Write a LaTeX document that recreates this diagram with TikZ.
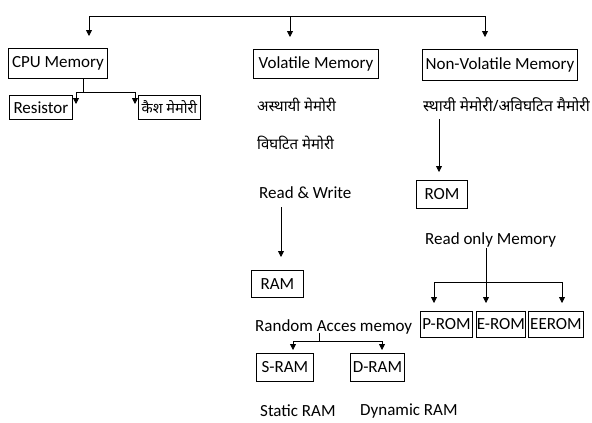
\documentclass[tikz,border=0pt]{standalone}
\usepackage{fontspec}
\setmainfont{Carlito}
\newfontfamily\deva[Script=Devanagari]{Noto Sans}
\usetikzlibrary{arrows.meta}
\begin{document}
\begin{tikzpicture}[x=1pt,y=-1pt,
  box/.style={draw, line width=0.9pt, inner sep=0pt, anchor=north west, font=\fontsize{17}{20}\selectfont},
  lbl/.style={inner sep=0pt, anchor=west, font=\fontsize{17}{20}\selectfont},
  hlbl/.style={inner sep=0pt, anchor=west, font=\deva\fontsize{15}{18}\selectfont},
  ln/.style={line width=0.8pt},
  arr/.style={line width=0.8pt, -{Triangle[length=6pt,width=6pt]}}]
\useasboundingbox[fill=white] (0,0) rectangle (592,423);

% boxes
\node[box, minimum width=99pt, minimum height=30pt] (cpu) at (8,48) {CPU Memory};
\node[box, minimum width=125pt, minimum height=29pt] (vol) at (253,49) {Volatile Memory};
\node[box, minimum width=155pt, minimum height=31pt] (nv) at (422,49) {Non-Volatile Memory};
\node[box, minimum width=63pt, minimum height=24pt] (res) at (9,95) {Resistor};
\node[box, minimum width=62pt, minimum height=24pt, font=\deva\fontsize{14.5}{17}\selectfont] (cache) at (138,95) {कैश मेमोरी};
\node[box, minimum width=52pt, minimum height=27pt] (ram) at (251,270) {RAM};
\node[box, minimum width=51pt, minimum height=28pt] (rom) at (416,180) {ROM};
\node[box, minimum width=57pt, minimum height=28pt] (sram) at (256,353) {S-RAM};
\node[box, minimum width=54pt, minimum height=28pt] (dram) at (350,353) {D-RAM};
\node[box, minimum width=52pt, minimum height=26pt] (prom) at (420,311) {P-ROM};
\node[box, minimum width=49pt, minimum height=26pt] (erom) at (476,311) {E-ROM};
\node[box, minimum width=55pt, minimum height=26pt] (eerom) at (528,311) {EEROM};

% labels
\node[hlbl] (ast) at (257,105) {अस्थायी मेमोरी};
\node[hlbl] (vig) at (257,143) {विघटित मेमोरी};
\node[lbl] (rw) at (259,193) {Read \& Write};
\node[lbl] (rac) at (255,327) {Random Acces memoy};
\node[lbl] (sr) at (260,411) {Static RAM};
\node[lbl] (dr) at (360,411) {Dynamic RAM};
\node[hlbl, font=\deva\fontsize{15.5}{18}\selectfont] (sth) at (423,105) {स्थायी मेमोरी/अविघटित मैमोरी};
\node[lbl] (rom2) at (425,240) {Read only Memory};

% top connectors
\coordinate (t1) at (89,16);
\coordinate (t2) at (290,16);
\coordinate (t3) at (485,16);
\draw[ln] (t1) -- (t3);
\draw[arr, shorten >=12pt] (t1) -- (t1 |- cpu.north);
\draw[arr, shorten >=12pt] (t2) -- (t2 |- vol.north);
\draw[arr, shorten >=12pt] (t3) -- (t3 |- nv.north);

% cpu children
\coordinate (cj) at (83,92);
\coordinate (ca) at (76,92);
\coordinate (cb) at (135,92);
\coordinate (cae) at (76,104);
\coordinate (cbe) at (135,104);
\draw[ln] (cpu.south -| cj) -- (cj);
\draw[ln] (ca) -- (cb);
\draw[arr] (ca) -- (cae);
\draw[arr] (cb) -- (cbe);

% read & write -> RAM
\coordinate (rwx) at (281,207);
\draw[arr, shorten >=13pt] (rwx) -- (rwx |- ram.north);

% RAM children
\coordinate (rj) at (319,333);
\coordinate (rj2) at (319,341);
\coordinate (ra) at (293,341);
\coordinate (rb) at (382,341);
\draw[ln] (rj) -- (rj2);
\draw[ln] (ra) -- (rb);
\draw[arr, shorten >=3pt] (ra) -- (ra |- sram.north);
\draw[arr, shorten >=3pt] (rb) -- (rb |- dram.north);

% ROM arrow
\coordinate (nx) at (439,119);
\draw[arr, shorten >=8pt] (nx) -- (nx |- rom.north);

% ROM children
\coordinate (oj) at (486,248);
\coordinate (oj2) at (486,282);
\coordinate (oa) at (434,282);
\coordinate (ob) at (562,282);
\draw[ln] (oj) -- (oj2);
\draw[ln] (oa) -- (ob);
\draw[arr, shorten >=8pt] (oa) -- (oa |- prom.north);
\draw[arr, shorten >=8pt] (oj2) -- (oj2 |- erom.north);
\draw[arr, shorten >=8pt] (ob) -- (ob |- eerom.north);
\end{tikzpicture}
\end{document}
